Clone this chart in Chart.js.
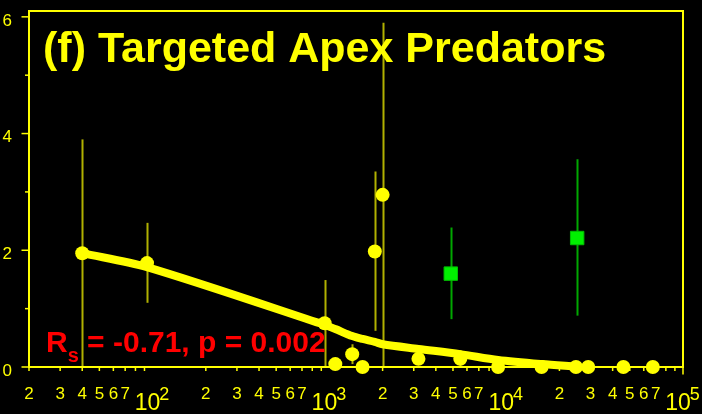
<!DOCTYPE html>
<html><head><meta charset="utf-8">
<script src="https://cdn.jsdelivr.net/npm/chart.js@4"></script>
<style>html,body{margin:0;padding:0;background:#000;overflow:hidden;}canvas{display:block;}</style>
</head><body>
<canvas id="c" width="702" height="414"></canvas>
<script>
// ---- data ----
const titleText = '(f) Targeted Apex Predators';
const statMain = 'R';
const statSub = 's';
const statRest = ' = -0.71, p = 0.002';

const yellowX  = [40, 93, 940, 1080, 1346, 1540, 1807, 2000, 3190, 5500, 9000, 15850, 24800, 29100, 46000, 67500];
const yellowY  = [1.95, 1.78, 0.75, 0.05, 0.22, 0.0, 1.98, 2.95, 0.14, 0.14, 0.0, 0.0, 0.0, 0.0, 0.0, 0.0];
const yellowHi = [3.90, 2.47, 1.49, null, 0.39, null, 3.35, 5.90, null, 0.29, null, null, null, null, null, null];
const yellowLo = [0.00, 1.10, 0.00, null, 0.05, null, 0.62, 0.00, null, 0.00, null, null, null, null, null, null];

const greenX  = [4860, 25200];
const greenY  = [1.60, 2.21];
const greenHi = [2.39, 3.56];
const greenLo = [0.82, 0.88];

const trendX = [40, 93, 940, 1080, 1346, 1540, 1807, 2000, 3190, 5500, 9000, 15850, 24800];
const trendY = [1.95, 1.71, 0.72, 0.65, 0.53, 0.48, 0.43, 0.39, 0.31, 0.22, 0.12, 0.05, 0.01];

const xMantissas   = [2, 3, 4, 5, 6, 7, 8, 9];
const xMinorLabels = ['2', '3', '4', '5', '6', '7', '', ''];
const xDecades     = [2, 3, 4, 5];
const yTickValues  = [0, 1, 2, 3, 4, 5, 6];
const yTickLabels  = ['0', '', '2', '', '4', '', '6'];

// ---- build ----
const xTickValues = [];
[1, 2, 3, 4].forEach(e => xMantissas.forEach(m => xTickValues.push(m * Math.pow(10, e))));
xTickValues.push(100000);
const isDecade = v => Math.abs(Math.log10(v) - Math.round(Math.log10(v))) < 1e-9;
function minorLabel(v) {
  if (isDecade(v)) return '';
  const m = Math.round(v / Math.pow(10, Math.floor(Math.log10(v) + 1e-9)));
  const i = xMantissas.indexOf(m);
  return i >= 0 ? xMinorLabels[i] : '';
}

const YEL = '#ffff00';
const FONT = '"Liberation Sans", Arial, sans-serif';

const decor = {
  id: 'decor',
  beforeDatasetsDraw(chart) {
    const { ctx, scales: { x, y } } = chart;
    ctx.save();
    ctx.lineWidth = 2;
    ctx.strokeStyle = '#b0b000';
    yellowX.forEach((v, i) => {
      if (yellowHi[i] == null) return;
      const px = Math.round(x.getPixelForValue(v)) + 0.5;
      ctx.beginPath();
      ctx.moveTo(px, y.getPixelForValue(yellowLo[i]));
      ctx.lineTo(px, y.getPixelForValue(yellowHi[i]));
      ctx.stroke();
    });
    ctx.strokeStyle = '#00a800';
    greenX.forEach((v, i) => {
      const px = Math.round(x.getPixelForValue(v)) + 0.5;
      ctx.beginPath();
      ctx.moveTo(px, y.getPixelForValue(greenLo[i]));
      ctx.lineTo(px, y.getPixelForValue(greenHi[i]));
      ctx.stroke();
    });
    ctx.restore();
  },
  afterDraw(chart) {
    const { ctx, chartArea: a, scales: { x, y } } = chart;
    ctx.save();
    // frame
    ctx.strokeStyle = YEL;
    ctx.lineWidth = 2;
    ctx.strokeRect(a.left, a.top, a.right - a.left, a.bottom - a.top);
    // tick marks
    ctx.lineWidth = 1.5;
    x.ticks.forEach(t => {
      const px = x.getPixelForValue(t.value);
      const len = isDecade(t.value) ? 7.5 : 4;
      ctx.beginPath(); ctx.moveTo(px, a.bottom); ctx.lineTo(px, a.bottom + len); ctx.stroke();
    });
    y.ticks.forEach(t => {
      const py = y.getPixelForValue(t.value);
      const len = (t.value % 2 === 0) ? 7.5 : 4;
      ctx.beginPath(); ctx.moveTo(a.left, py); ctx.lineTo(a.left - len, py); ctx.stroke();
    });
    // decade labels 10^n
    ctx.fillStyle = YEL;
    ctx.textBaseline = 'alphabetic';
    ctx.textAlign = 'left';
    xDecades.forEach(e => {
      const px = x.getPixelForValue(Math.pow(10, e));
      ctx.font = '23px ' + FONT;
      const w10 = ctx.measureText('10').width;
      ctx.font = '18px ' + FONT;
      const we = ctx.measureText(String(e)).width;
      const x0 = px - (w10 + we) / 2;
      ctx.font = '23px ' + FONT;
      ctx.fillText('10', x0, a.bottom + 43);
      ctx.font = '18px ' + FONT;
      ctx.fillText(String(e), x0 + w10 - 1, a.bottom + 33);
    });
    // title
    ctx.font = 'bold 43px ' + FONT;
    ctx.fillText(titleText, 43, 62);
    // stat annotation
    ctx.fillStyle = '#ff0000';
    ctx.font = 'bold 30px ' + FONT;
    let sx = 46;
    ctx.fillText(statMain, sx, 352);
    sx += ctx.measureText(statMain).width;
    ctx.font = 'bold 20px ' + FONT;
    ctx.fillText(statSub, sx, 362);
    sx += ctx.measureText(statSub).width;
    ctx.font = 'bold 30px ' + FONT;
    ctx.fillText(statRest, sx, 352);
    ctx.restore();
  }
};

function zeroPad(s) { s.paddingTop = 0; s.paddingBottom = 0; s.paddingLeft = 0; s.paddingRight = 0; }

new Chart(document.getElementById('c'), {
  type: 'scatter',
  data: {
    datasets: [
      {
        label: 'yellow',
        data: yellowX.map((v, i) => ({ x: v, y: yellowY[i] })),
        backgroundColor: YEL, borderWidth: 0, pointRadius: 7, pointHoverRadius: 7,
        clip: false, order: 1
      },
      {
        label: 'green',
        data: greenX.map((v, i) => ({ x: v, y: greenY[i] })),
        backgroundColor: '#00f000', borderColor: '#00c000', borderWidth: 1,
        pointStyle: 'rect', pointRadius: 9.5, pointHoverRadius: 9.5,
        clip: false, order: 1
      },
      {
        label: 'trend',
        type: 'line',
        data: trendX.map((v, i) => ({ x: v, y: trendY[i] })),
        borderColor: YEL, borderWidth: 8, pointRadius: 0,
        borderCapStyle: 'round', borderJoinStyle: 'round',
        tension: 0.3, fill: false, clip: false, order: 2
      }
    ]
  },
  options: {
    responsive: false,
    animation: false,
    events: [],
    layout: { autoPadding: false, padding: { top: 11, right: 19, left: 0, bottom: 0 } },
    plugins: { legend: { display: false }, tooltip: { enabled: false }, title: { display: false } },
    scales: {
      x: {
        type: 'logarithmic',
        min: 20, max: 100000,
        afterFit: s => { s.height = 47; zeroPad(s); },
        afterBuildTicks: s => { s.ticks = xTickValues.map(v => ({ value: v })); },
        grid: { display: false, drawTicks: false, tickLength: 0 },
        border: { display: false },
        ticks: {
          autoSkip: false, maxRotation: 0, minRotation: 0,
          color: YEL, font: { family: FONT, size: 17 }, padding: 17,
          callback: v => minorLabel(v)
        }
      },
      y: {
        type: 'linear',
        min: 0, max: 6.1,
        afterFit: s => { s.width = 29; zeroPad(s); },
        afterBuildTicks: s => { s.ticks = yTickValues.map(v => ({ value: v })); },
        grid: { display: false, drawTicks: false, tickLength: 0 },
        border: { display: false },
        ticks: {
          color: YEL, font: { family: FONT, size: 17 }, padding: 17, labelOffset: 4,
          callback: (v, i) => yTickLabels[yTickValues.indexOf(v)] ?? ''
        }
      }
    }
  },
  plugins: [decor]
});
</script>
</body></html>
